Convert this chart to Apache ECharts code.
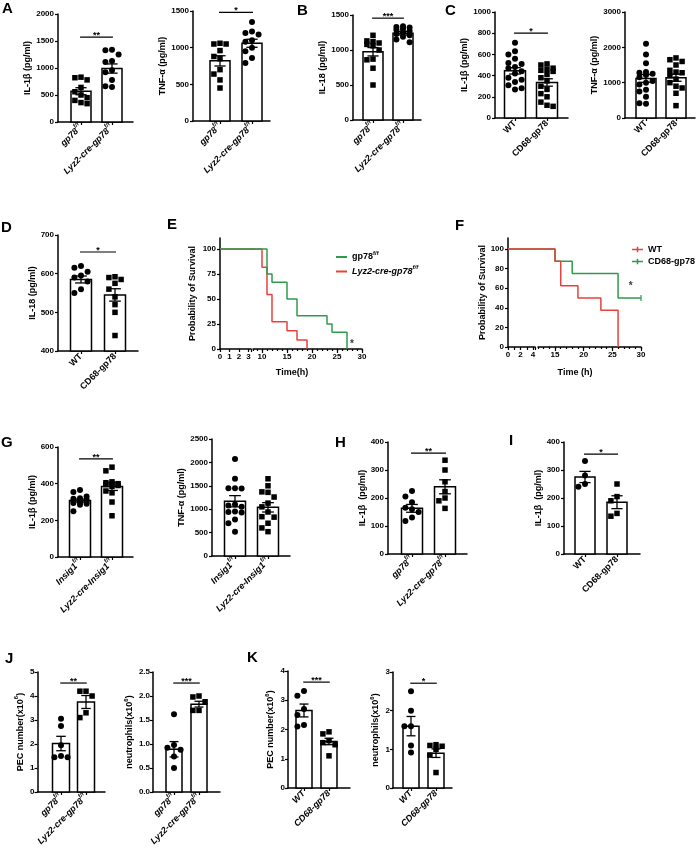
<!DOCTYPE html>
<html><head><meta charset="utf-8">
<script src="https://cdn.jsdelivr.net/npm/echarts@6/dist/echarts.min.js"></script>
<style>html,body{margin:0;padding:0;background:#fff}#c{width:697px;height:855px}</style>
</head><body><div id="c"></div>
<script>
// ---------------- DATA ----------------
const gpLabels = ['gp78^f/f', 'Lyz2-cre-gp78^f/f'];
const wtLabels = ['WT', 'CD68-gp78'];
const insigLabels = ['Insig1^f/f', 'Lyz2-cre-Insig1^f/f'];

// A: IL-1β, TNF-α
const a1Ctrl = [830, 820, 780, 640, 560, 500, 450, 400, 360, 340];
const a1Ko = [1340, 1330, 1250, 1130, 1110, 960, 920, 780, 660, 650];
const a1Mean = [570, 990];
const a1Sem = [65, 85];
const a1Sig = [1570, '**'];
const a2Ctrl = [1060, 1050, 1050, 960, 880, 850, 700, 640, 560, 450];
const a2Ko = [1350, 1220, 1200, 1180, 1100, 1080, 1000, 950, 860, 790];
const a2Mean = [820, 1060];
const a2Sem = [70, 55];
const a2Sig = [1480, '*'];
// B: IL-18
const bCtrl = [1210, 1130, 1120, 1100, 1080, 1060, 1000, 870, 860, 740, 500];
const bKo = [1340, 1330, 1320, 1300, 1290, 1270, 1250, 1230, 1210, 1190, 1150, 1110];
const bMean = [975, 1240];
const bSem = [60, 25];
const bSig = [1455, '***'];
// C: IL-1β, TNF-α
const c1Ctrl = [710, 630, 600, 560, 520, 510, 480, 470, 440, 420, 380, 360, 340, 310, 280, 270];
const c1Ko = [510, 500, 470, 460, 450, 440, 410, 380, 350, 300, 270, 230, 200, 150, 120, 110];
const c1Mean = [445, 335];
const c1Sem = [30, 35];
const c1Sig = [800, '*'];
const c2Ctrl = [2100, 1800, 1550, 1300, 1280, 1250, 1220, 1150, 1050, 1000, 950, 800, 750, 600, 420, 400];
const c2Ko = [1700, 1650, 1600, 1500, 1350, 1300, 1280, 1200, 1100, 1000, 900, 850, 700, 350];
const c2Mean = [1120, 1140];
const c2Sem = [110, 100];
// D: IL-18
const dCtrl = [620, 615, 605, 595, 590, 580, 560, 550];
const dKo = [592, 590, 585, 575, 560, 540, 520, 500, 440];
const dMean = [585, 545];
const dSem = [9, 16];
const dSig = [656, '*'];
// E: survival (time h, survival %)
const eCtrlCurve = [[0, 100], [11, 75], [12, 66.7], [15, 50], [17, 33.3], [23, 25], [24, 16.7], [27, 0]];
const eKoCurve = [[0, 100], [10, 81.8], [11, 54.5], [12, 27.3], [15, 18.2], [17, 9.1], [19, 0]];
const eLeftTicks = [0, 1, 2, 3];
const eRightTicks = [10, 15, 20, 25, 30];
const eYTicks = [0, 25, 50, 75, 100];
const eStar = [[28, 5]];
// F: survival
const fWtCurve = [[0, 100], [15, 87.5], [16, 62.5], [19, 50], [23, 37.5], [26, 0]];
const fCdCurve = [[0, 100], [15, 87.5], [18, 75], [26, 50], [30, 50]];
const fCdCensor = [[30, 50]];
const fLeftTicks = [0, 2, 4];
const fRightTicks = [15, 20, 25, 30];
const fYTicks = [0, 20, 40, 60, 80, 100];
const fStar = [[28.2, 62]];
// G: IL-1β, TNF-α
const g1Ctrl = [365, 355, 330, 320, 318, 312, 308, 305, 300, 298, 295, 290, 285, 250];
const g1Ko = [490, 470, 410, 405, 400, 398, 395, 390, 385, 360, 350, 300, 225];
const g1Mean = [308, 385];
const g1Sem = [8, 22];
const g1Sig = [535, '**'];
const g2Ctrl = [2070, 1650, 1450, 1450, 1440, 1100, 1080, 1050, 950, 940, 930, 780, 700, 520];
const g2Ko = [1650, 1500, 1370, 1360, 1260, 1130, 1050, 940, 840, 830, 700, 600, 520];
const g2Mean = [1170, 1040];
const g2Sem = [120, 100];
// H, I: IL-1β
const hCtrl = [225, 205, 185, 165, 160, 150, 130, 118];
const hKo = [335, 300, 258, 223, 200, 190, 163];
const hMean = [163, 240];
const hSem = [14, 25];
const hSig = [360, '**'];
const iCtrl = [332, 280, 250, 240];
const iKo = [250, 205, 190, 145, 135];
const iMean = [275, 185];
const iSem = [20, 23];
const iSig = [357, '*'];
// J: PEC number, neutrophils (x10^6)
const j1Ctrl = [3.05, 2.75, 1.95, 1.5, 1.45, 1.45];
const j1Ko = [4.2, 4.2, 4.0, 3.3, 3.1];
const j1Mean = [2.02, 3.75];
const j1Sem = [0.3, 0.27];
const j1Sig = [4.54, '**'];
const j2Ctrl = [1.62, 0.98, 0.92, 0.88, 0.74, 0.5];
const j2Ko = [2.0, 1.98, 1.88, 1.7, 1.7];
const j2Mean = [0.89, 1.83];
const j2Sem = [0.16, 0.06];
const j2Sig = [2.27, '***'];
// K
const k1Ctrl = [3.32, 3.15, 2.7, 2.5, 2.15, 2.1];
const k1Ko = [1.92, 1.85, 1.62, 1.55, 1.48, 1.1];
const k1Mean = [2.65, 1.59];
const k1Sem = [0.22, 0.11];
const k1Sig = [3.62, '***'];
const k2Ctrl = [2.5, 2.0, 1.6, 1.6, 1.1, 0.92];
const k2Ko = [1.12, 1.1, 1.08, 1.0, 0.85, 0.4];
const k2Mean = [1.6, 0.9];
const k2Sem = [0.25, 0.11];
const k2Sig = [2.71, '*'];

// ---------------- BUILD ----------------
const FONT = "'Liberation Sans', Arial, sans-serif";
const RED = '#e8413c', GREEN = '#2e9b4b';
const base = {fontFamily: FONT, fontWeight: 'bold', color: '#000'};
const RICH = {
  n: Object.assign({}, base, {fontSize: 9, lineHeight: 14}),
  ns: Object.assign({}, base, {fontSize: 6, verticalAlign: 'top'}),
  i: Object.assign({}, base, {fontSize: 9, lineHeight: 14, fontStyle: 'italic'}),
  is: Object.assign({}, base, {fontSize: 6, verticalAlign: 'top', fontStyle: 'italic'}),
  y: Object.assign({}, base, {fontSize: 9, lineHeight: 14}),
  ys: Object.assign({}, base, {fontSize: 6, verticalAlign: 'top'})
};
function rich(s, italic) {
  const k = italic ? 'i' : 'n';
  const p = s.split('^');
  return p.length > 1 ? '{' + k + '|' + p[0] + '}{' + k + 's|' + p[1] + '}' : '{' + k + '|' + p[0] + '}';
}
const option = {animation: false, backgroundColor: '#fff', textStyle: {fontFamily: FONT},
  grid: [], xAxis: [], yAxis: [], series: [], legend: [], graphic: []};
const axLine = {show: true, onZero: false, lineStyle: {color: '#000', width: 1.5}};
const tickStyle = {color: '#000', width: 1.2};

function swarm(vals, center, ppx, ppy, size, maxOff) {
  const order = vals.map((v, i) => i).sort((a, b) => vals[b] - vals[a]);
  const placed = [];
  const res = new Array(vals.length);
  const step = size + 0.6;
  const cands = [0, -1, 1, -2, 2].map(k => k * step).filter(o => Math.abs(o) <= maxOff);
  order.forEach(i => {
    const py = vals[i] * ppy;
    let best = 0, bestD = -1;
    for (const o of cands) {
      let d = Infinity;
      placed.forEach(q => { d = Math.min(d, Math.hypot(q[0] - o, q[1] - py)); });
      if (d >= step) { best = o; bestD = d; break; }
      if (d > bestD) { bestD = d; best = o; }
    }
    placed.push([best, py]);
    res[i] = [center + best / ppx, vals[i]];
  });
  return res;
}

function barPanel(p) {
  const gi = option.grid.length;
  const ppx = p.c2 - p.c1;
  const xMin = -(p.c1 - p.ax) / ppx, xMax = (p.end - p.c1) / ppx;
  const ppy = (p.bottom - p.top) / (p.yMax - p.yMin);
  option.grid.push({left: p.ax, top: p.top, width: p.end - p.ax, height: p.bottom - p.top});
  option.xAxis.push({type: 'value', gridIndex: gi, min: xMin, max: xMax, position: 'bottom',
    axisLine: axLine, splitLine: {show: false},
    axisTick: {show: true, customValues: [0, 1], length: 3, lineStyle: tickStyle},
    axisLabel: {show: true, customValues: [0, 1], rotate: 45, margin: 4,
      formatter: v => rich(p.labels[Math.round(v)], p.italic), rich: RICH}});
  option.yAxis.push({type: 'value', gridIndex: gi, min: p.yMin, max: p.yMax, interval: p.yInt,
    axisLine: axLine, splitLine: {show: false},
    axisTick: {show: true, length: 3, lineStyle: tickStyle},
    axisLabel: {fontSize: 8, fontWeight: 'bold', color: '#000', fontFamily: FONT, margin: p.lm || 4,
      formatter: p.fmt || (v => String(v))},
    name: p.name, nameLocation: 'middle', nameGap: p.nameGap,
    nameTextStyle: {fontSize: 9, fontWeight: 'bold', color: '#000', fontFamily: FONT, rich: RICH}});
  const bw = p.bw;
  // bars
  option.series.push({type: 'custom', xAxisIndex: gi, yAxisIndex: gi, z: 2,
    data: p.mean.map((m, i) => [i, m]),
    renderItem: (params, api) => {
      const t = api.coord([api.value(0), api.value(1)]);
      const b = api.coord([api.value(0), p.yMin]);
      return {type: 'rect', shape: {x: t[0] - bw / 2, y: t[1], width: bw, height: b[1] - t[1]},
        style: {fill: '#fff', stroke: '#000', lineWidth: 1.5}};
    }});
  // points
  p.groups.forEach((g, gi2) => {
    const size = p.shapes[gi2] === 'rect' ? 5.5 : 6;
    option.series.push({type: 'scatter', xAxisIndex: gi, yAxisIndex: gi, z: 3,
      symbol: p.shapes[gi2], symbolSize: size, itemStyle: {color: '#000', opacity: 1},
      data: swarm(g, gi2, ppx, ppy, size, bw / 2)});
  });
  // error bars
  const cw = bw * 0.28;
  option.series.push({type: 'custom', xAxisIndex: gi, yAxisIndex: gi, z: 4,
    data: p.mean.map((m, i) => [i, m, p.sem[i]]),
    renderItem: (params, api) => {
      const x = api.value(0), m = api.value(1), e = api.value(2);
      const t = api.coord([x, m + e]), b = api.coord([x, m - e]);
      const st = {stroke: '#000', lineWidth: 1.3};
      return {type: 'group', children: [
        {type: 'line', shape: {x1: t[0], y1: t[1], x2: b[0], y2: b[1]}, style: st},
        {type: 'line', shape: {x1: t[0] - cw, y1: t[1], x2: t[0] + cw, y2: t[1]}, style: st},
        {type: 'line', shape: {x1: b[0] - cw, y1: b[1], x2: b[0] + cw, y2: b[1]}, style: st}]};
    }});
  if (p.sig) {
    option.series.push({type: 'custom', xAxisIndex: gi, yAxisIndex: gi, z: 4,
      data: [[0, 1, p.sig[0]]],
      renderItem: (params, api) => {
        const a = api.coord([api.value(0) - 0.03, api.value(2)]);
        const b = api.coord([api.value(1) + 0.03, api.value(2)]);
        return {type: 'group', children: [
          {type: 'line', shape: {x1: a[0], y1: a[1], x2: b[0], y2: b[1]}, style: {stroke: '#000', lineWidth: 1.2}},
          {type: 'text', style: {text: p.sig[1], x: (a[0] + b[0]) / 2, y: a[1] - 1.5, align: 'center',
            verticalAlign: 'middle', font: 'bold 9px ' + FONT, fill: '#000'}}]};
      }});
  }
}

function kmPanel(p) {
  const g1 = option.grid.length;
  const h = p.bottom - p.top;
  option.grid.push({left: p.ax, top: p.top, width: p.lEnd - p.ax, height: h});
  option.grid.push({left: p.rStart, top: p.top, width: p.rEnd - p.rStart, height: h});
  const g2 = g1 + 1;
  const lMax = (p.lEnd - p.ax) / p.lScale;
  const rMin = p.rRef - (p.rRefPx - p.rStart) / p.rScale;
  const rMax = p.rRef + (p.rEnd - p.rRefPx) / p.rScale;
  const lab = {fontSize: 8, fontWeight: 'bold', color: '#000', fontFamily: FONT, margin: 4, formatter: v => String(Math.round(v))};
  const lMinor = []; for (let t = 0; t <= lMax; t += 1) lMinor.push(t);
  const rMinor = []; for (let t = Math.ceil(rMin); t <= rMax + 1e-6; t += 1) rMinor.push(t);
  option.xAxis.push({type: 'value', gridIndex: g1, min: 0, max: lMax, position: 'bottom', axisLine: axLine, splitLine: {show: false},
    axisTick: {show: true, customValues: lMinor.concat([lMax]), length: 3, lineStyle: tickStyle},
    axisLabel: Object.assign({customValues: p.lLabels}, lab)});
  option.xAxis.push({type: 'value', gridIndex: g2, min: rMin, max: rMax, position: 'bottom', axisLine: axLine, splitLine: {show: false},
    axisTick: {show: true, customValues: [rMin].concat(rMinor), length: 2, lineStyle: tickStyle},
    axisLabel: Object.assign({customValues: p.rLabels}, lab)});
  const xMajor = option.xAxis.length;
  option.xAxis.push({type: 'value', gridIndex: g2, min: rMin, max: rMax, position: 'bottom', axisLine: {show: false}, splitLine: {show: false},
    axisTick: {show: true, customValues: p.rLabels, length: 4, lineStyle: tickStyle}, axisLabel: {show: false}});
  option.yAxis.push({type: 'value', gridIndex: g1, min: 0, max: p.yMax, axisLine: axLine, splitLine: {show: false},
    axisTick: {show: true, customValues: p.yTicks, length: 3, lineStyle: tickStyle},
    axisLabel: {customValues: p.yTicks, fontSize: 8, fontWeight: 'bold', color: '#000', fontFamily: FONT, margin: 4, formatter: v => String(v)},
    name: 'Probability of Survival', nameLocation: 'middle', nameGap: p.nameGap,
    nameTextStyle: {fontSize: 9, fontWeight: 'bold', color: '#000', fontFamily: FONT}});
  option.yAxis.push({type: 'value', gridIndex: g2, min: 0, max: p.yMax, show: false});
  const xl = xMajor - 2, xr = xMajor - 1;
  const yl = option.yAxis.length - 2, yr = option.yAxis.length - 1;
  p.curves.forEach(c => {
    [[xl, yl], [xr, yr]].forEach(([xi, yi]) => {
      option.series.push({type: 'line', name: c.name, xAxisIndex: xi, yAxisIndex: yi, data: c.data, step: 'end',
        symbol: 'none', showSymbol: false, clip: true, z: c.z, color: c.color,
        lineStyle: {color: c.color, width: 1.5}, itemStyle: {color: c.color}});
    });
  });
  if (p.censor) p.censor.forEach(c => {
    option.series.push({type: 'scatter', name: c.name, xAxisIndex: xr, yAxisIndex: yr, data: c.data, color: c.color,
      symbol: 'rect', symbolSize: [1.5, 6], itemStyle: {color: c.color}, z: 5, clip: false});
  });
  option.series.push({type: 'scatter', xAxisIndex: xr, yAxisIndex: yr, data: p.star, symbolSize: 1,
    itemStyle: {color: 'rgba(0,0,0,0)'}, z: 6,
    label: {show: true, position: 'inside', formatter: '*', fontSize: 10, fontWeight: 'bold', color: '#000', fontFamily: FONT}});
  option.legend.push(Object.assign({orient: 'vertical', itemGap: 3, selectedMode: false,
    data: p.legend.map(n => ({name: n, itemStyle: {color: p.legendColors[n]}})),
    textStyle: {fontSize: 9, fontWeight: 'bold', color: '#000', fontFamily: FONT, rich: RICH},
    formatter: n => rich(n, p.italicNames.indexOf(n) >= 0)}, p.legendPos));
  option.graphic.push({type: 'text', x: p.timeX, y: p.timeY, style: {text: p.timeText, align: 'center', verticalAlign: 'middle',
    font: 'bold 9px ' + FONT, fill: '#000'}});
}

barPanel({ax: 58, end: 133, c1: 81, c2: 112, top: 14, bottom: 122, yMin: 0, yMax: 2000, yInt: 500, bw: 20,
  name: 'IL-1β (pg/ml)', nameGap: 24, labels: gpLabels, italic: true, groups: [a1Ctrl, a1Ko], shapes: ['rect', 'circle'],
  mean: a1Mean, sem: a1Sem, sig: a1Sig});
barPanel({ax: 193, end: 270, c1: 220, c2: 252, top: 11, bottom: 121, yMin: 0, yMax: 1500, yInt: 500, bw: 20,
  name: 'TNF-α (pg/ml)', nameGap: 23, labels: gpLabels, italic: true, groups: [a2Ctrl, a2Ko], shapes: ['rect', 'circle'],
  mean: a2Mean, sem: a2Sem, sig: a2Sig});
barPanel({ax: 353, end: 421, c1: 373, c2: 403, top: 15, bottom: 120, yMin: 0, yMax: 1500, yInt: 500, bw: 20,
  name: 'IL-18 (pg/ml)', nameGap: 24, labels: gpLabels, italic: true, groups: [bCtrl, bKo], shapes: ['rect', 'circle'],
  mean: bMean, sem: bSem, sig: bSig});
barPanel({ax: 495, end: 568, c1: 515, c2: 547, top: 12, bottom: 118, yMin: 0, yMax: 1000, yInt: 200, bw: 21,
  name: 'IL-1β (pg/ml)', nameGap: 24, labels: wtLabels, italic: false, groups: [c1Ctrl, c1Ko], shapes: ['circle', 'rect'],
  mean: c1Mean, sem: c1Sem, sig: c1Sig});
barPanel({ax: 625, end: 695, c1: 646, c2: 676, top: 12, bottom: 118, yMin: 0, yMax: 3000, yInt: 1000, bw: 20,
  name: 'TNF-α (pg/ml)', nameGap: 24, labels: wtLabels, italic: false, groups: [c2Ctrl, c2Ko], shapes: ['circle', 'rect'],
  mean: c2Mean, sem: c2Sem});
barPanel({ax: 58, end: 138, c1: 81, c2: 115, top: 235, bottom: 351, yMin: 400, yMax: 700, yInt: 100, bw: 21,
  name: 'IL-18 (pg/ml)', nameGap: 20, labels: wtLabels, italic: false, groups: [dCtrl, dKo], shapes: ['circle', 'rect'],
  mean: dMean, sem: dSem, sig: dSig});
barPanel({ax: 58, end: 133, c1: 80, c2: 112, top: 447, bottom: 557, yMin: 0, yMax: 600, yInt: 200, bw: 21,
  name: 'IL-1β (pg/ml)', nameGap: 20, labels: insigLabels, italic: true, groups: [g1Ctrl, g1Ko], shapes: ['circle', 'rect'],
  mean: g1Mean, sem: g1Sem, sig: g1Sig});
barPanel({ax: 212, end: 290, c1: 235, c2: 268, top: 439, bottom: 556, yMin: 0, yMax: 2500, yInt: 500, bw: 21,
  name: 'TNF-α (pg/ml)', nameGap: 24, labels: insigLabels, italic: true, groups: [g2Ctrl, g2Ko], shapes: ['circle', 'rect'],
  mean: g2Mean, sem: g2Sem});
barPanel({ax: 388, end: 467, c1: 412, c2: 445, top: 442, bottom: 554, yMin: 0, yMax: 400, yInt: 100, bw: 21,
  name: 'IL-1β  (pg/ml)', nameGap: 20, labels: gpLabels, italic: true, groups: [hCtrl, hKo], shapes: ['circle', 'rect'],
  mean: hMean, sem: hSem, sig: hSig});
barPanel({ax: 564, end: 640, c1: 585, c2: 617, top: 442, bottom: 554, yMin: 0, yMax: 400, yInt: 100, bw: 20,
  name: 'IL-1β  (pg/ml)', nameGap: 20, labels: wtLabels, italic: false, groups: [iCtrl, iKo], shapes: ['circle', 'rect'],
  mean: iMean, sem: iSem, sig: iSig});
barPanel({ax: 37.5, end: 105, c1: 61, c2: 86, top: 672, bottom: 792, yMin: 0, yMax: 5, yInt: 1, bw: 17, lm: 3,
  name: '{y|PEC number(x10}{ys|6}{y|)}', nameGap: 10, labels: gpLabels, italic: true, groups: [j1Ctrl, j1Ko], shapes: ['circle', 'rect'],
  mean: j1Mean, sem: j1Sem, sig: j1Sig});
barPanel({ax: 153, end: 220, c1: 174, c2: 199, top: 672, bottom: 792, yMin: 0, yMax: 2.5, yInt: 0.5, bw: 16, lm: 3,
  fmt: v => v.toFixed(1),
  name: '{y|neutrophils(x10}{ys|6}{y|)}', nameGap: 16, labels: gpLabels, italic: true, groups: [j2Ctrl, j2Ko], shapes: ['circle', 'rect'],
  mean: j2Mean, sem: j2Sem, sig: j2Sig});
barPanel({ax: 288, end: 350, c1: 304, c2: 329, top: 671, bottom: 788, yMin: 0, yMax: 4, yInt: 1, bw: 16, lm: 3,
  name: '{y|PEC number(x10}{ys|6}{y|)}', nameGap: 10, labels: wtLabels, italic: true, groups: [k1Ctrl, k1Ko], shapes: ['circle', 'rect'],
  mean: k1Mean, sem: k1Sem, sig: k1Sig});
barPanel({ax: 393, end: 452, c1: 411, c2: 436, top: 672, bottom: 788, yMin: 0, yMax: 3, yInt: 1, bw: 16, lm: 3,
  name: '{y|neutrophils(x10}{ys|6}{y|)}', nameGap: 10, labels: wtLabels, italic: true, groups: [k2Ctrl, k2Ko], shapes: ['circle', 'rect'],
  mean: k2Mean, sem: k2Sem, sig: k2Sig});

kmPanel({ax: 220, top: 238, bottom: 349, lEnd: 251, lScale: 9.5, rStart: 253, rEnd: 362, rRef: 10, rRefPx: 262, rScale: 5,
  yMax: 111, yTicks: eYTicks, lLabels: eLeftTicks, rLabels: eRightTicks, nameGap: 23,
  curves: [{name: 'Lyz2-cre-gp78^f/f', data: eKoCurve, color: RED, z: 2}, {name: 'gp78^f/f', data: eCtrlCurve, color: GREEN, z: 3}],
  star: eStar, legend: ['gp78^f/f', 'Lyz2-cre-gp78^f/f'], italicNames: ['Lyz2-cre-gp78^f/f'],
  legendColors: {'gp78^f/f': GREEN, 'Lyz2-cre-gp78^f/f': RED},
  legendPos: {left: 331, top: 245, itemWidth: 11, itemHeight: 2, icon: 'rect'},
  timeX: 292, timeY: 373, timeText: 'Time(h)'});
kmPanel({ax: 508, top: 238, bottom: 347, lEnd: 535, lScale: 6.25, rStart: 538, rEnd: 641, rRef: 15, rRefPx: 555, rScale: 5.733,
  yMax: 111.2, yTicks: fYTicks, lLabels: fLeftTicks, rLabels: fRightTicks, nameGap: 21,
  curves: [{name: 'CD68-gp78', data: fCdCurve, color: GREEN, z: 2}, {name: 'WT', data: fWtCurve, color: RED, z: 3}],
  censor: [{name: 'CD68-gp78', data: fCdCensor, color: GREEN}],
  star: fStar, legend: ['WT', 'CD68-gp78'], italicNames: [],
  legendColors: {'WT': RED, 'CD68-gp78': GREEN},
  legendPos: {left: 627, top: 240, itemWidth: 11, itemHeight: 7, icon: 'path://M0,3.6h20v2.8h-20zM8.6,0h2.8v10h-2.8z'},
  timeX: 575, timeY: 373, timeText: 'Time (h)'});

// panel letters
[['A', 2, 1], ['B', 297, 3], ['C', 445, 3], ['D', 1, 220], ['E', 167, 217], ['F', 455, 218],
 ['G', 1, 435], ['H', 335, 435], ['I', 509, 433], ['J', 5, 651], ['K', 247, 650]].forEach(([t, x, y]) => {
  option.graphic.push({type: 'text', x: x, y: y, style: {text: t, font: 'bold 15px ' + FONT, fill: '#000', align: 'left', verticalAlign: 'top'}});
});

const chart = echarts.init(document.getElementById('c'), null, {renderer: 'canvas'});
chart.setOption(option);
</script>
</body></html>
